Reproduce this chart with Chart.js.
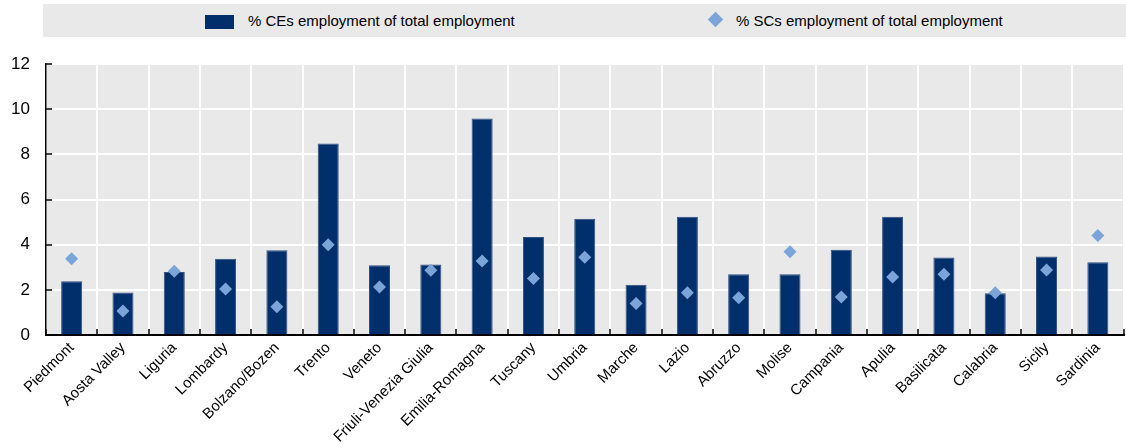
<!DOCTYPE html>
<html>
<head>
<meta charset="utf-8">
<script src="https://cdn.jsdelivr.net/npm/chart.js@4.4.1/dist/chart.umd.min.js"></script>
<style>
    body { margin: 0; background: #fff; }
    #wrap { position: relative; width: 1126px; height: 448px; overflow: hidden; }
    #chart { position: absolute; left: 0; top: 0; }
    #legend {
        position: absolute; left: 43px; top: 4px; width: 1083px; height: 33px;
        background: #e9e9e9;
        font-family: 'Liberation Sans', Arial, sans-serif; font-size: 15px; color: #000;
    }
    .item { position: absolute; top: 0; height: 33px; line-height: 33px; white-space: nowrap; }
    .swatch { position: absolute; left: 162px; top: 11px; width: 29px; height: 14px; background: #002f6c; }
    .diamond { position: absolute; left: 667px; top: 10px; width: 11px; height: 11px; background: #7ba4d9; transform: rotate(45deg); }
</style>
</head>
<body>
<div id="wrap">
    <canvas id="chart" width="1130" height="448"></canvas>
    <div id="legend">
        <div class="swatch"></div>
        <div class="item" style="left:205px;">% CEs employment of total employment</div>
        <div class="diamond"></div>
        <div class="item" style="left:693px;">% SCs employment of total employment</div>
    </div>
</div>
<script>
const regions = ['Piedmont', 'Aosta Valley', 'Liguria', 'Lombardy', 'Bolzano/Bozen', 'Trento', 'Veneto',
    'Friuli-Venezia Giulia', 'Emilia-Romagna', 'Tuscany', 'Umbria', 'Marche', 'Lazio', 'Abruzzo', 'Molise',
    'Campania', 'Apulia', 'Basilicata', 'Calabria', 'Sicily', 'Sardinia'];
const ceShare = [2.38, 1.88, 2.79, 3.38, 3.75, 8.48, 3.09, 3.12, 9.59, 4.34, 5.15, 2.22, 5.24, 2.69, 2.69,
    3.78, 5.24, 3.43, 1.85, 3.48, 3.22];
const scShare = [3.38, 1.06, 2.82, 2.04, 1.25, 4.00, 2.13, 2.87, 3.28, 2.50, 3.44, 1.40, 1.87, 1.65, 3.69,
    1.68, 2.57, 2.69, 1.87, 2.88, 4.41];
const yMax = 12;
const yStep = 2;

const font = "'Liberation Sans', Arial, sans-serif";
Chart.defaults.font.family = font;
Chart.defaults.color = '#000';

// sfondo grigio dell'area del grafico
const plotBg = {
    id: 'plotBg',
    beforeDraw(chart) {
        const a = chart.chartArea;
        const ctx = chart.ctx;
        ctx.save();
        ctx.fillStyle = '#e9e9e9';
        ctx.fillRect(a.left, a.top, a.right - a.left, a.bottom - a.top);
        ctx.restore();
    }
};

new Chart(document.getElementById('chart'), {
    type: 'bar',
    data: {
        labels: regions,
        datasets: [
            {
                type: 'line',
                label: '% SCs employment of total employment',
                data: scShare,
                showLine: false,
                pointStyle: 'rectRot',
                pointRadius: 6.5,
                pointBackgroundColor: '#7ba4d9',
                pointBorderWidth: 0,
                order: 0
            },
            {
                label: '% CEs employment of total employment',
                data: ceShare,
                backgroundColor: '#002f6c',
                borderColor: '#2f4f80',
                borderWidth: 1,
                barPercentage: 0.41,
                categoryPercentage: 1,
                order: 1
            }
        ]
    },
    options: {
        responsive: false,
        animation: false,
        layout: { padding: { top: 64, left: 0, right: 0, bottom: 0 } },
        plugins: { legend: { display: false }, tooltip: { enabled: false } },
        scales: {
            x: {
                grid: { color: '#fff', lineWidth: 2, tickColor: '#000', tickLength: -6, tickWidth: 1.5, offset: true },
                border: { color: '#000', width: 2 },
                ticks: { autoSkip: false, minRotation: 45, maxRotation: 45, padding: 10, font: { size: 15 }, color: '#000' },
                afterFit(scale) { scale.height = 113; }
            },
            y: {
                min: 0,
                max: yMax,
                grid: { color: '#fff', lineWidth: 2, tickColor: '#000', tickLength: -6, tickWidth: 1.5 },
                border: { color: '#000', width: 1.5 },
                ticks: { stepSize: yStep, padding: 22, font: { size: 17 }, color: '#000' },
                afterFit(scale) { scale.width = 46; }
            }
        }
    },
    plugins: [plotBg]
});
</script>
</body>
</html>
